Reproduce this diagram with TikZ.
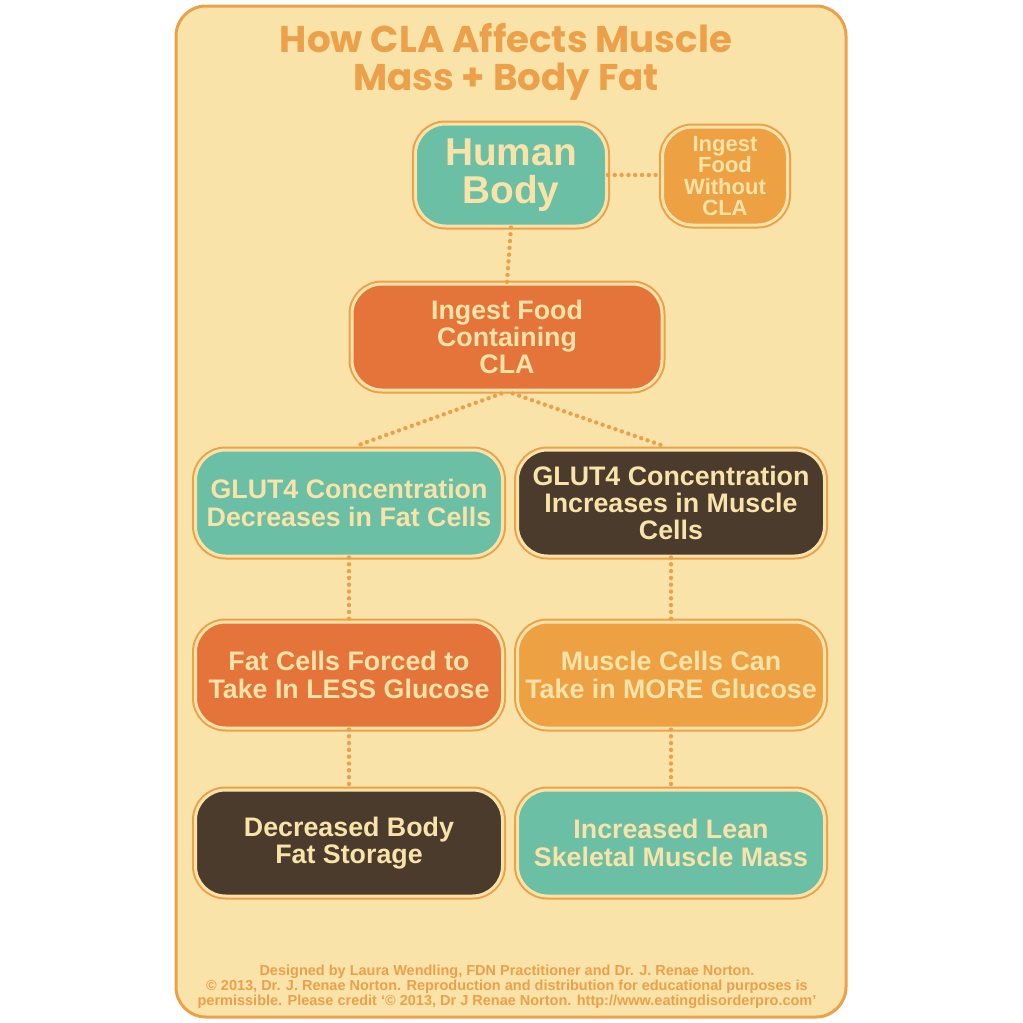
\documentclass[tikz,border=0pt]{standalone}
\usepackage{fontspec}
\setmainfont{Liberation Sans}
\newfontfamily\titlefont{Poppins}
\usepackage{xcolor}
\definecolor{card}{HTML}{FAE3A9}
\definecolor{rim}{HTML}{EDA04A}
\definecolor{teal}{HTML}{6BBFA5}
\definecolor{rust}{HTML}{E5743A}
\definecolor{amber}{HTML}{EDA142}
\definecolor{cocoa}{HTML}{4A3B2C}

\begin{document}
\begin{tikzpicture}[x=0.5pt,y=-0.5pt,
  box/.style={rounded corners=15pt,preaction={draw=rim,line width=3.5pt},
    draw=card,line width=1.5pt,inner sep=0pt,align=center,text=card,
    minimum width=153.5pt,minimum height=53pt,
    font=\fontsize{13.4}{13.6}\selectfont\bfseries},
  dotline/.style={rim,line width=2.2pt,line cap=round,dash pattern=on 0pt off 3.4pt}]
\useasboundingbox[fill=white] (0,0) rectangle (1023,1023);
\draw[rim,line width=1.5pt,fill=card,rounded corners=15pt] (176,6) rectangle (846,1017);

\node[text=rim,align=center,font=\titlefont\fontsize{18.6}{19}\selectfont\bfseries] (title) at (506,62) {How CLA Affects Muscle\\Mass + Body Fat};

\node[box,fill=teal,minimum width=95.5pt,minimum height=51pt,font=\fontsize{19.4}{19}\selectfont\bfseries] (human) at (511,175) {Human\\Body};
\node[box,fill=amber,minimum width=62.5pt,minimum height=49pt,font=\fontsize{11}{10.6}\selectfont\bfseries] (nocla) at (725,176) {Ingest\\Food\\Without\\CLA};
\node[box,fill=rust,minimum width=155pt] (withcla) at (507,337) {Ingest Food\\Containing\\CLA};

\node[box,fill=teal] (fatglut) at (349,503) {GLUT4 Concentration\\Decreases in Fat Cells};
\node[box,fill=cocoa] (muscleglut) at (671,503) {GLUT4 Concentration\\Increases in Muscle\\Cells};
\node[box,fill=rust] (fatgluc) at (349,675) {Fat Cells Forced to\\Take In LESS Glucose};
\node[box,fill=amber] (musclegluc) at (671,675) {Muscle Cells Can\\Take in MORE Glucose};
\node[box,fill=cocoa] (fatstore) at (349,843) {Decreased Body\\Fat Storage};
\node[box,fill=teal] (musclemass) at (671,843) {Increased Lean\\Skeletal Muscle Mass};

\draw[dotline] (human.east) -- (human.east -| nocla.west);
\draw[dotline] (human.south) -- (withcla.north);
\draw[dotline,shorten <=3pt,shorten >=4pt] (withcla.south) -- (fatglut.north);
\draw[dotline,shorten <=3pt,shorten >=4pt] (withcla.south) -- (muscleglut.north);
\draw[dotline] (fatglut.south) -- (fatgluc.north);
\draw[dotline] (muscleglut.south) -- (musclegluc.north);
\draw[dotline] (fatgluc.south) -- (fatstore.north);
\draw[dotline] (musclegluc.south) -- (musclemass.north);

\node[text=rim,align=center,font=\fontsize{7.25}{7.5}\selectfont\bfseries] (credit) at (507,987) {Designed by Laura Wendling, FDN Practitioner and Dr. J. Renae Norton.\\
\textcopyright{} 2013, Dr. J. Renae Norton. Reproduction and distribution for educational purposes is\\
permissible. Please credit `\textcopyright{} 2013, Dr J Renae Norton. http://www.eatingdisorderpro.com'};
\end{tikzpicture}
\end{document}
